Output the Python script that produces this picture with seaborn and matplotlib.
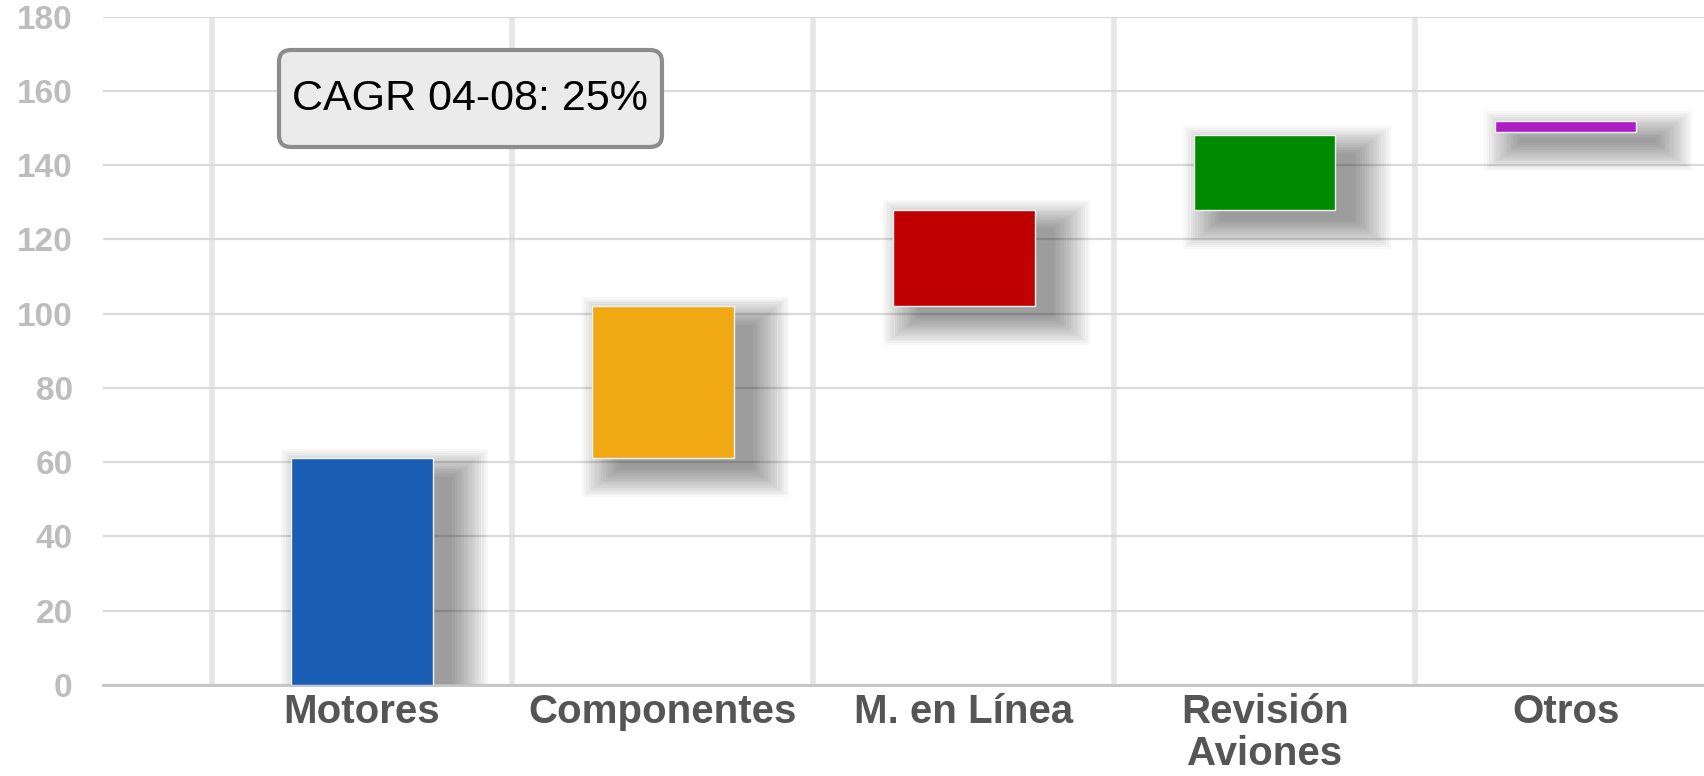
import numpy as np
import matplotlib.pyplot as plt
import seaborn as sns
from matplotlib.patches import FancyBboxPatch

# Waterfall data
categories = ["Motores", "Componentes", "M. en Línea", "Revisión\nAviones", "Otros"]
bottoms = [0, 61, 102, 128, 149]
heights = [61, 41, 26, 20, 3]
colors = ["#1a5db4", "#f0a912", "#c00000", "#008a00", "#ad1fc6"]
y_ticks = [0, 20, 40, 60, 80, 100, 120, 140, 160, 180]
cagr_text = "CAGR 04-08: 25%"

sns.set_style("white")
plt.rcParams["font.family"] = ["Liberation Sans", "DejaVu Sans"]

fig = plt.figure(figsize=(17.04, 7.76), dpi=100)
ax = fig.add_axes([0.0606, 0.1176, 0.9394, 0.861])

bar_w = 0.47
x = np.arange(len(categories))
b = np.array(bottoms, dtype=float)
h = np.array(heights, dtype=float)

# soft drop shadow behind each bar (offset right and down, fading out)
for k in range(16):
    gx = k * 0.008
    gy = k * 0.5
    ax.bar(x + 0.075, h + 2 * gy - 2, bottom=b - 3 - gy, width=bar_w + 2 * gx - 0.02,
           color="black", alpha=0.027, linewidth=0, zorder=1)

sns.barplot(x=categories, y=heights, bottom=bottoms, width=bar_w,
            color=colors[0], linewidth=1.0, ax=ax, zorder=3)
for patch, c in zip(ax.patches[-len(categories):], colors):
    patch.set_facecolor(c)
    patch.set_edgecolor("#f4f4f4")

ax.set_xlim(-0.86, 4.46)
ax.set_ylim(0, 180)
ax.set_yticks(y_ticks)
ax.set_xticks(x - 0.5, minor=True)
ax.grid(True, axis="y", which="major", color="#dadada", linewidth=1.6, zorder=0)
ax.grid(True, axis="x", which="minor", color="#e6e6e6", linewidth=4, zorder=0)
ax.grid(False, axis="x", which="major")
ax.set_axisbelow(True)

for s in ["left", "right", "top"]:
    ax.spines[s].set_visible(False)
ax.spines["bottom"].set_color("#c4c4c4")
ax.spines["bottom"].set_linewidth(2)

ax.tick_params(axis="x", which="both", length=0, pad=6)
ax.tick_params(axis="y", length=0, pad=22)
ax.set_xticklabels(categories, fontsize=29, fontweight="bold", color="#555555",
                   linespacing=1.12)
for lbl in ax.get_yticklabels():
    lbl.set_fontweight("bold")
    lbl.set_fontsize(24)
    lbl.set_color("#bdbdbd")
ax.set_xlabel("")
ax.set_ylabel("")

# CAGR callout box
box = FancyBboxPatch((279, 629), 383, 97, boxstyle="round,pad=0,rounding_size=12",
                     transform=None, facecolor="#ebebeb", edgecolor="#8c8c8c",
                     linewidth=3, zorder=5)
fig.patches.append(box)
fig.text(470 / 1704, 1 - 99 / 776, cagr_text, ha="center", va="center",
         fontsize=31, color="black", zorder=6)

fig.savefig("out.png", dpi=100)
